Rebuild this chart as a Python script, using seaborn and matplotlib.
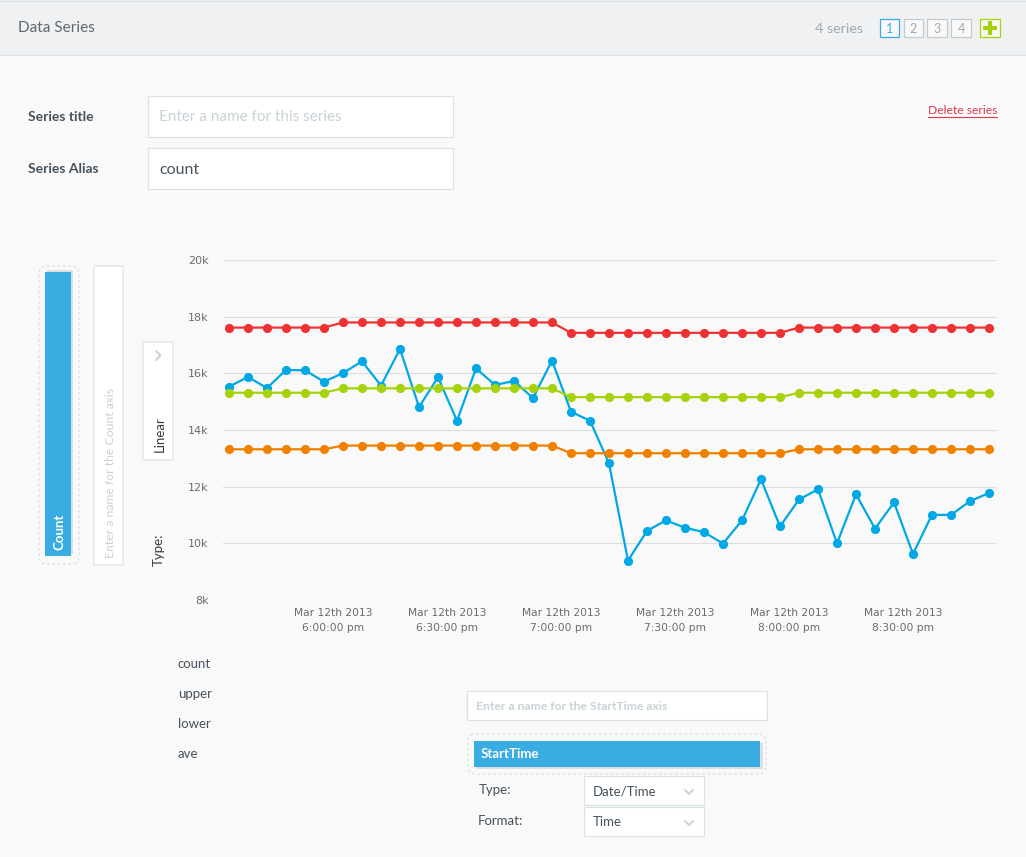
import numpy as np
import pandas as pd
import seaborn as sns
import matplotlib
matplotlib.use('Agg')
import matplotlib.pyplot as plt
import matplotlib.dates as mdates
from matplotlib.patches import Rectangle, FancyBboxPatch

# values, one point every 5 minutes
start_time = '2013-03-12 17:32:40'
count = [15530, 15870, 15480, 16120, 16105, 15705, 16010, 16425, 15565, 16860,
         14810, 15860, 14325, 16175, 15590, 15730, 15125, 16450, 14645, 14325,
         12825, 9390, 10440, 10810, 10550, 10395, 9990, 10810, 12260, 10595,
         11550, 11905, 10000, 11730, 10515, 11445, 9625, 11010, 11000, 11490, 11775]
upper = [17615] * 6 + [17795] * 12 + [17430] * 12 + [17615] * 11
lower = [13320] * 6 + [13450] * 12 + [13180] * 12 + [13320] * 11
ave = [15315] * 6 + [15470] * 12 + [15160] * 12 + [15315] * 11

series_names = ['count', 'upper', 'lower', 'ave']
series_colors = ['#00a8e6', '#ee3232', '#f08000', '#a6d20a']
y_ticks = [8000, 10000, 12000, 14000, 16000, 18000, 20000]
y_labels = ['8k', '10k', '12k', '14k', '16k', '18k', '20k']
x_ticks = ['2013-03-12 18:00', '2013-03-12 18:30', '2013-03-12 19:00',
           '2013-03-12 19:30', '2013-03-12 20:00', '2013-03-12 20:30']
x_labels = ['Mar 12th 2013\n6:00:00 pm', 'Mar 12th 2013\n6:30:00 pm', 'Mar 12th 2013\n7:00:00 pm',
            'Mar 12th 2013\n7:30:00 pm', 'Mar 12th 2013\n8:00:00 pm', 'Mar 12th 2013\n8:30:00 pm']

times = pd.date_range(start_time, periods=len(count), freq='5min')
df = pd.DataFrame({'time': times, 'count': count, 'upper': upper, 'lower': lower, 'ave': ave})
df = df.melt(id_vars='time', value_vars=series_names, var_name='series', value_name='value')

W, H = 1026, 857
BG = '#f9f9f9'
BORDER = '#dbe2e6'
UI_BLUE = '#39ace2'
DARK = '#46525c'
HINT = '#c9d2d6'
UI_FONT = ['Lato', 'DejaVu Sans']

sns.set_theme(style='white', rc={'figure.facecolor': BG})
fig = plt.figure(figsize=(W / 100, H / 100), dpi=100)

# the page around the chart, in pixels
ui = fig.add_axes([0, 0, 1, 1])
ui.set_xlim(0, W)
ui.set_ylim(H, 0)
ui.axis('off')


def box(x0, y0, x1, y1, fc='white', ec=BORDER, lw=0.9):
    ui.add_patch(Rectangle((x0, y0), x1 - x0, y1 - y0, facecolor=fc, edgecolor=ec, linewidth=lw))


def dashed(x0, y0, x1, y1):
    ui.add_patch(FancyBboxPatch((x0 + 6, y0 + 6), x1 - x0 - 12, y1 - y0 - 12, boxstyle='round,pad=6,rounding_size=8',
                                facecolor='none', edgecolor='#d3d9dc', linewidth=0.7, linestyle=(0, (3, 2.5))))


def label(x, y, s, size=10, color=DARK, weight='normal', ha='left', va='center', **kw):
    return ui.text(x, y, s, fontsize=size, color=color, fontweight=weight, ha=ha, va=va, family=UI_FONT, **kw)


def chevron(xs, ys):
    ui.plot(xs, ys, color='#c9d2d6', lw=1.4)


# header
box(0, 0, W, 55, fc='#f0f1f3', ec='none')
ui.plot([0, W], [0.5, 0.5], color=BORDER, lw=0.8)
ui.plot([0, W], [55, 55], color=BORDER, lw=0.8)
label(18, 28, 'Data Series', size=11.1, color='#5d6973')
label(815, 28.5, '4 series', size=10.3, color='#a0a9b0')
for i, (x0, x1) in enumerate([(880, 899), (904, 923), (927, 947), (951, 971)]):
    blue = i == 0
    box(x0, 18.5, x1, 37, fc=BG, ec=UI_BLUE if blue else '#c3cacf', lw=0.9)
    label((x0 + x1) / 2, 28.5, str(i + 1), size=9, color=UI_BLUE if blue else '#a0a9b0', ha='center')
box(980, 18.5, 1000, 37, fc=BG, ec='#a6d20a', lw=0.9)
ui.plot([990, 990], [21, 34.5], color='#a6d20a', lw=3, solid_capstyle='butt')
ui.plot([983, 997], [27.7, 27.7], color='#a6d20a', lw=3, solid_capstyle='butt')

# series form
label(28, 117, 'Series title', size=10, weight='bold')
label(28, 169, 'Series Alias', size=10, weight='bold')
box(148, 96, 452.5, 137)
box(148, 148, 452.5, 189)
label(159, 117, 'Enter a name for this series', size=11, color=HINT)
label(159, 170, 'count', size=11.5)
label(928, 110.5, 'Delete series', size=8.7, color='#d93a50')
ui.plot([928, 997], [117, 117], color='#d93a50', lw=0.8)

# y axis controls
dashed(39, 266, 79, 564)
box(47, 270, 73, 554, fc='#dcdfe1', ec='none')
box(45, 272, 71, 556, fc=UI_BLUE, ec='none')
label(59.5, 550, 'Count', size=9.5, color='white', weight='bold', ha='center', va='bottom', rotation=90)
box(94, 266, 123, 565, lw=1.2, ec='#e6eaec')
label(110, 558, 'Enter a name for the Count axis', size=8.8, color=HINT, ha='center', va='bottom', rotation=90)
box(143, 342, 173, 460, lw=1.2, ec='#e6eaec')
chevron([156, 160.5, 156], [351, 355.5, 360])
label(159.5, 452, 'Linear', size=9.5, color='#333d45', ha='center', va='bottom', rotation=90)
label(158.5, 566, 'Type:', size=9.5, color='#333d45', ha='center', va='bottom', rotation=90)

# legend names, the swatches are not on the page
for name, y in zip(series_names, [664.5, 694.5, 724.5, 754.5]):
    label(178, y, name, size=9.5)

# x axis controls
box(467, 691, 766.5, 720)
label(476, 706.5, 'Enter a name for the StartTime axis', size=8.7, color=HINT, weight='bold')
dashed(468, 734, 766, 774)
box(476, 743, 763, 769, fc='#dcdfe1', ec='none')
box(474, 741, 760, 767, fc=UI_BLUE, ec='none')
label(481, 754.5, 'StartTime', size=9.5, color='white', weight='bold')
label(479, 790.5, 'Type:', size=9.5)
label(478, 821, 'Format:', size=9.5)
box(584, 776, 703.5, 805)
box(584, 807, 703.5, 836)
label(593, 791.5, 'Date/Time', size=9.5)
label(593, 822.5, 'Time', size=9.5)
chevron([685, 689, 693], [790, 794, 790])
chevron([685, 689, 693], [821, 825, 821])

# the chart
ax = fig.add_axes([223 / W, (H - 600) / H, (997 - 223) / W, 340 / H], facecolor='none')
sns.lineplot(data=df, x='time', y='value', hue='series', hue_order=series_names, palette=series_colors,
             marker='o', markersize=6.6, markeredgewidth=0, linewidth=1.6, legend=False, ax=ax, clip_on=False)
ax.set_ylim(8000, 20000)
step = times[1] - times[0]
ax.set_xlim(times[0] - step * 6 / 19, times[-1] + step * 8 / 19)
ax.set_yticks(y_ticks)
ax.set_yticklabels(y_labels, fontsize=8, color='#6b6b6b')
ax.set_xticks(mdates.date2num(pd.to_datetime(x_ticks)))
ax.set_xticklabels(x_labels, fontsize=7.7, color='#6b6b6b', linespacing=1.65)
ax.set_xlabel('')
ax.set_ylabel('')
ax.grid(axis='y', color='#dddddd', linewidth=0.8)
ax.set_axisbelow(True)
ax.tick_params(axis='y', length=0, pad=10.5)
ax.tick_params(axis='x', length=0, pad=5.5)
sns.despine(ax=ax, left=True, bottom=True)

fig.savefig('out.png', dpi=100, facecolor=BG)
